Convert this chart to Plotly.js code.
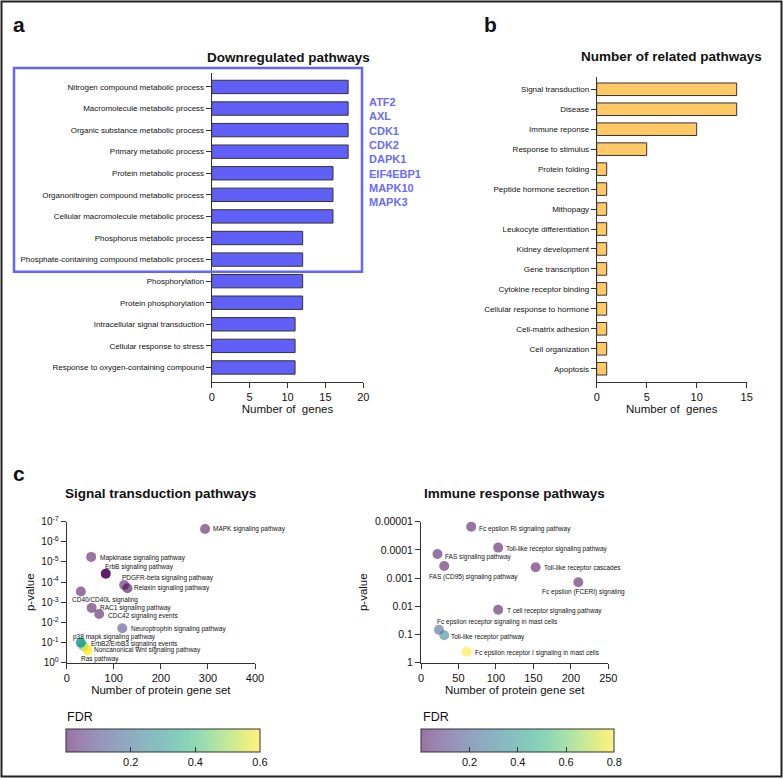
<!DOCTYPE html>
<html>
<head>
<meta charset="utf-8">
<script src="https://cdn.plot.ly/plotly-3.0.1.min.js"></script>
<style>
html,body{margin:0;padding:0;background:#fff;}
#chart{width:783px;height:780px;}
</style>
</head>
<body>
<div id="chart"></div>
<script>
// ---------------- DATA ----------------
// Panel a: Downregulated pathways (top to bottom)
const downCategories = [
  "Nitrogen compound metabolic process",
  "Macromolecule metabolic process",
  "Organic substance metabolic process",
  "Primary metabolic process",
  "Protein metabolic process",
  "Organonitrogen compound metabolic process",
  "Cellular macromolecule metabolic process",
  "Phosphorus metabolic process",
  "Phosphate-containing compound metabolic process",
  "Phosphorylation",
  "Protein phosphorylation",
  "Intracellular signal transduction",
  "Cellular response to stress",
  "Response to oxygen-containing compound"
];
const downGenes = [18, 18, 18, 18, 16, 16, 16, 12, 12, 12, 12, 11, 11, 11];
const highlightedGenes = ["ATF2", "AXL", "CDK1", "CDK2", "DAPK1", "EIF4EBP1", "MAPK10", "MAPK3"];

// Panel b: Number of related pathways (top to bottom)
const relCategories = [
  "Signal transduction", "Disease", "Immune reponse", "Response to stimulus",
  "Protein folding", "Peptide hormone secretion", "Mithopagy", "Leukocyte differentiation",
  "Kidney development", "Gene transcription", "Cytokine receptor binding",
  "Cellular response to hormone", "Cell-matrix adhesion", "Cell organization", "Apoptosis"
];
const relGenes = [14, 14, 10, 5, 1, 1, 1, 1, 1, 1, 1, 1, 1, 1, 1];

// Panel c (left): Signal transduction pathways
const sigNames = [
  "MAPK signaling pathway", "Mapkinase signaling pathway", "ErbB signaling pathway",
  "PDGFR-beta signaling pathway", "Relaxin signaling pathway", "CD40/CD40L signaling",
  "RAC1 signaling pathway", "CDC42 signaling events", "Neuroptrophin signaling pathway",
  "Ras pathway", "ErbB2/ErbB3 signaling events", "Noncanonical Wnt signaling pathway",
  "p38 mapk signaling pathway"
];
const sigGeneSet = [294, 52, 83, 122, 129, 30, 53, 69, 118, 45, 35, 43, 30];
const sigPValue  = [2.3e-7, 5.6e-6, 3.8e-5, 1.4e-4, 2.0e-4, 2.9e-4, 1.9e-3, 3.8e-3, 0.0196, 0.26, 0.148, 0.21, 0.102];
const sigFDR     = [0.0, 0.0, 0.0, 0.0, 0.0, 0.0, 0.0, 0.0, 0.1, 0.6, 0.42, 0.6, 0.32];
const sigTickVals = [1, 0.1, 0.01, 1e-3, 1e-4, 1e-5, 1e-6, 1e-7];
const sigTickText = ["10<sup>0</sup>", "10<sup>-1</sup>", "10<sup>-2</sup>", "10<sup>-3</sup>",
                     "10<sup>-4</sup>", "10<sup>-5</sup>", "10<sup>-6</sup>", "10<sup>-7</sup>"];
const sigFdrTicks = [0.2, 0.4, 0.6];

// Panel c (right): Immune response pathways
const immNames = [
  "Fc epsilon RI signaling pathway", "Toll-like receptor signaling pathway", "FAS signaling pathway",
  "FAS (CD95) signaling pathway", "Toll-like receptor cascades", "Fc epsilon (FCERI) signaling",
  "T cell receptor signaling pathway", "Fc epsilon receptor signaling in mast cells",
  "Toll-like receptor pathway", "Fc epsilon receptor I signaling in mast cells"
];
const immGeneSet = [67, 103, 22, 31, 153, 210, 103, 24, 31, 61];
const immPValue  = [1.5e-5, 8.3e-5, 1.4e-4, 3.7e-4, 4.1e-4, 1.4e-3, 0.0132, 0.068, 0.107, 0.41];
const immFDR     = [0.0, 0.0, 0.0, 0.0, 0.0, 0.0, 0.0, 0.22, 0.32, 0.8];
const immTickVals = [1, 0.1, 0.01, 0.001, 0.0001, 0.00001];
const immTickText = ["1", "0.1", "0.01", "0.001", "0.0001", "0.00001"];
const immFdrTicks = [0.2, 0.4, 0.6, 0.8];

// ---------------- STYLE ----------------
const W = 783, H = 780;
const FONT = '"Liberation Sans", Arial, Helvetica, sans-serif';
const fx = px => px / W;
const fy = py => 1 - py / H;

// label offsets (px) from each point: left edge of text, vertical centre
const sigLblDx = [7, 8, -2, -3, 6, -10, 7, 8, 8, -8, 7, 6, -9];
const sigLblDy = [0, 1, -7, -7, 0, 9, 0, 2, 1, 8, -2, 1, -6];
const sigOpacity = [0.55, 0.55, 0.88, 0.55, 0.6, 0.55, 0.55, 0.55, 0.55, 0.55, 0.55, 0.6, 0.85];
const immLblDx = [7, 7, 7, -16, 7, -37, 8, -3, 6, 7];
const immLblDy = [2, 1, 3, 11, 1, 10, 1, -8, 2, 1];
const immOpacity = [0.55, 0.55, 0.55, 0.55, 0.55, 0.55, 0.55, 0.55, 0.55, 0.55];

const viridis = ['#440154','#48186a','#472d7b','#424086','#3b528b','#33638d','#2c728e','#26828e',
  '#21918c','#1fa088','#28ae80','#3fbc73','#5ec962','#84d44b','#addc30','#d8e219','#fde725'];
const viridisOpaque = viridis.map((c, i) => [i / (viridis.length - 1), c]);
const viridisAlpha = viridis.map((c, i) => {
  const r = parseInt(c.slice(1, 3), 16), g = parseInt(c.slice(3, 5), 16), b = parseInt(c.slice(5, 7), 16);
  return [i / (viridis.length - 1), `rgba(${r},${g},${b},0.55)`];
});

const axisCommon = {
  showline: true, linecolor: '#333', linewidth: 1, ticks: 'outside', ticklen: 5,
  tickcolor: '#333', showgrid: false, zeroline: false, fixedrange: true
};

function fdrColorbar(centerX, lenPx, ticks) {
  return {
    orientation: 'h', x: fx(centerX), xanchor: 'center', y: fy(729), yanchor: 'top',
    len: lenPx, lenmode: 'pixels', thickness: 23, thicknessmode: 'pixels', xpad: 0, ypad: 0,
    outlinewidth: 1, outlinecolor: '#333', tickvals: ticks, ticks: 'inside', ticklen: 5,
    tickcolor: '#333', tickfont: { size: 11, family: FONT, color: '#111' }
  };
}

// ---------------- TRACES ----------------
const traces = [
  {
    type: 'bar', orientation: 'h', x: downGenes, y: downCategories, xaxis: 'x', yaxis: 'y',
    width: 0.62, marker: { color: '#6060f8', line: { color: '#333', width: 1 } }, hoverinfo: 'x+y'
  },
  {
    type: 'bar', orientation: 'h', x: relGenes, y: relCategories, xaxis: 'x2', yaxis: 'y2',
    width: 0.63, marker: { color: '#ffc966', line: { color: '#333', width: 1 } }, hoverinfo: 'x+y'
  },
  {
    type: 'scatter', mode: 'markers', x: sigGeneSet, y: sigPValue, xaxis: 'x3', yaxis: 'y3',
    text: sigNames, hoverinfo: 'text+x+y',
    marker: { size: 10, color: sigFDR, colorscale: viridisOpaque, cmin: 0, cmax: 0.6, opacity: sigOpacity, showscale: false }
  },
  {
    type: 'scatter', mode: 'markers', x: sigGeneSet, y: sigPValue, xaxis: 'x3', yaxis: 'y3', hoverinfo: 'skip',
    marker: {
      size: 10, color: sigFDR, colorscale: viridisAlpha, cmin: 0, cmax: 0.6, opacity: 0, showscale: true,
      colorbar: fdrColorbar(163, 194, sigFdrTicks)
    }
  },
  {
    type: 'scatter', mode: 'markers', x: immGeneSet, y: immPValue, xaxis: 'x4', yaxis: 'y4',
    text: immNames, hoverinfo: 'text+x+y',
    marker: { size: 10, color: immFDR, colorscale: viridisOpaque, cmin: 0, cmax: 0.8, opacity: immOpacity, showscale: false }
  },
  {
    type: 'scatter', mode: 'markers', x: immGeneSet, y: immPValue, xaxis: 'x4', yaxis: 'y4', hoverinfo: 'skip',
    marker: {
      size: 10, color: immFDR, colorscale: viridisAlpha, cmin: 0, cmax: 0.8, opacity: 0, showscale: true,
      colorbar: fdrColorbar(517.8, 192.5, immFdrTicks)
    }
  }
];

// ---------------- ANNOTATIONS ----------------
const annotations = [];
function paperText(text, x, y, size, opts) {
  annotations.push(Object.assign({
    xref: 'paper', yref: 'paper', x: fx(x), y: fy(y), text: text, showarrow: false,
    xanchor: 'center', yanchor: 'middle', font: { size: size, family: FONT, color: '#111' }, borderpad: 0
  }, opts || {}));
}
paperText('<b>a</b>', 12, 24, 21, { xanchor: 'left' });
paperText('<b>b</b>', 483, 24, 21, { xanchor: 'left' });
paperText('<b>c</b>', 12, 474, 21, { xanchor: 'left' });
paperText('<b>Downregulated pathways</b>', 288, 58, 13.5);
paperText('<b>Number of related pathways</b>', 671.7, 57, 13.5);
paperText('<b>Signal transduction pathways</b>', 160.8, 493.3, 13.5);
paperText('<b>Immune response pathways</b>', 514, 493.3, 13.5);
paperText('<b>' + highlightedGenes.join('<br>') + '</b>', 367.5, 152.3, 11,
  { xanchor: 'left', align: 'left', font: { size: 11, family: FONT, color: '#6b6bff' } });
paperText('FDR', 66, 717, 12.5, { xanchor: 'left' });
paperText('FDR', 421.5, 717, 12.5, { xanchor: 'left' });

sigNames.forEach((n, i) => annotations.push({
  xref: 'x3', yref: 'y3', x: sigGeneSet[i], y: Math.log10(sigPValue[i]), text: n, showarrow: false,
  xanchor: 'left', yanchor: 'middle', xshift: sigLblDx[i], yshift: -sigLblDy[i], borderpad: 0,
  font: { size: 6.5, family: FONT, color: '#111' }
}));
immNames.forEach((n, i) => annotations.push({
  xref: 'x4', yref: 'y4', x: immGeneSet[i], y: Math.log10(immPValue[i]), text: n, showarrow: false,
  xanchor: 'left', yanchor: 'middle', xshift: immLblDx[i], yshift: -immLblDy[i], borderpad: 0,
  font: { size: 6.5, family: FONT, color: '#111' }
}));

// ---------------- LAYOUT ----------------
const layout = {
  width: W, height: H, margin: { l: 0, r: 0, t: 0, b: 0 },
  paper_bgcolor: '#fff', plot_bgcolor: 'rgba(0,0,0,0)', showlegend: false,
  font: { family: FONT, color: '#111' }, bargap: 0.38,
  xaxis: Object.assign({}, axisCommon, {
    domain: [fx(211.7), fx(363.3)], anchor: 'y', range: [0, 20], dtick: 5,
    tickfont: { size: 11 }, title: { text: 'Number of\u00a0 genes', font: { size: 11.5 }, standoff: 3 }
  }),
  yaxis: Object.assign({}, axisCommon, {
    domain: [fy(381.7), fy(72.7)], anchor: 'x', type: 'category', range: [13.66, -0.66],
    tickfont: { size: 8 }
  }),
  xaxis2: Object.assign({}, axisCommon, {
    domain: [fx(596.7), fx(746.7)], anchor: 'y2', range: [0, 15], dtick: 5,
    tickfont: { size: 11 }, title: { text: 'Number of\u00a0 genes', font: { size: 11.5 }, standoff: 3 }
  }),
  yaxis2: Object.assign({}, axisCommon, {
    domain: [fy(381.7), fy(76.7)], anchor: 'x2', type: 'category', range: [14.65, -0.63],
    tickfont: { size: 8 }
  }),
  xaxis3: Object.assign({}, axisCommon, {
    domain: [fx(66.7), fx(255)], anchor: 'y3', range: [0, 400], dtick: 100,
    tickfont: { size: 11 }, title: { text: 'Number of protein gene set', font: { size: 11.5 }, standoff: 3 }
  }),
  yaxis3: Object.assign({}, axisCommon, {
    domain: [fy(662.7), fy(521.7)], anchor: 'x3', type: 'log', range: [0, -7],
    tickvals: sigTickVals, ticktext: sigTickText, tickfont: { size: 10 },
    title: { text: 'p-value', font: { size: 11.5 }, standoff: 4 }
  }),
  xaxis4: Object.assign({}, axisCommon, {
    domain: [fx(421), fx(608.3)], anchor: 'y4', range: [0, 250], dtick: 50,
    tickfont: { size: 11 }, title: { text: 'Number of protein gene set', font: { size: 11.5 }, standoff: 3 }
  }),
  yaxis4: Object.assign({}, axisCommon, {
    domain: [fy(662.7), fy(521.7)], anchor: 'x4', type: 'log', range: [0, -5],
    tickvals: immTickVals, ticktext: immTickText, tickfont: { size: 10.5 },
    title: { text: 'p-value', font: { size: 11.5 }, standoff: 4 }
  }),
  annotations: annotations,
  shapes: [
    { type: 'rect', xref: 'paper', yref: 'paper', x0: fx(14), x1: fx(362), y0: fy(271.7), y1: fy(68),
      line: { color: '#6464ff', width: 2.5 }, fillcolor: 'rgba(0,0,0,0)' },
    { type: 'rect', xref: 'paper', yref: 'paper', x0: fx(1.5), x1: fx(781.5), y0: fy(776.5), y1: fy(1.5),
      line: { color: '#222', width: 2 }, fillcolor: 'rgba(0,0,0,0)' }
  ]
};

Plotly.newPlot('chart', traces, layout, { displayModeBar: false, staticPlot: true });
</script>
</body>
</html>
